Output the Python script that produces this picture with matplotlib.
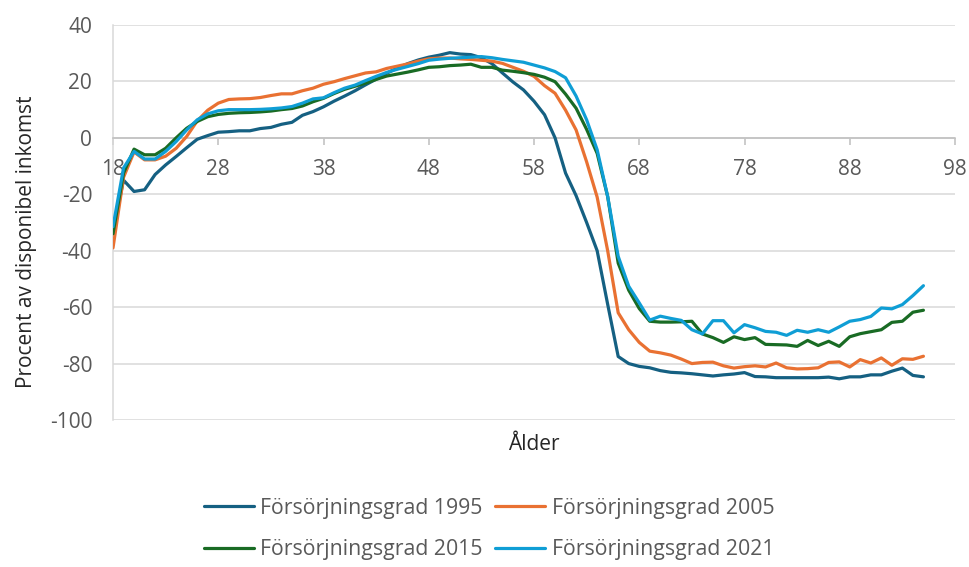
import matplotlib
matplotlib.use("Agg")
import matplotlib.pyplot as plt
import numpy as np

# Ålder 18-95
ages = list(range(18, 96))

grad_1995 = [-33, -15, -19, -18.4, -13, -9.6, -6.6, -3.5, -0.5, 0.8,
             2.0, 2.2, 2.5, 2.5, 3.3, 3.7, 4.8, 5.5, 8, 9.3,
             11, 13, 14.8, 16.7, 18.8, 20.8, 22.9, 24.7, 26.3, 27.6,
             28.6, 29.3, 30.2, 29.7, 29.5, 28.4, 26.3, 23, 19.8, 17,
             13, 8.2, 0, -12.5, -20.5, -30, -40, -59, -77.5, -80,
             -81, -81.5, -82.5, -83.1, -83.3, -83.6, -84, -84.4, -84, -83.7,
             -83.2, -84.6, -84.7, -85, -85, -85, -85, -85, -84.8, -85.4,
             -84.7, -84.7, -84, -84, -82.7, -81.6, -84.2, -84.7]

grad_2005 = [-39, -14, -5, -7.8, -7.8, -6.5, -3.7, 0.5, 6, 9.8,
             12.3, 13.6, 13.8, 13.9, 14.3, 15, 15.6, 15.6, 16.7, 17.6,
             19, 19.9, 21, 22, 23, 23.4, 24.6, 25.4, 26.2, 27.2,
             28, 28.3, 28.3, 28, 27.8, 27.5, 27.2, 26.4, 25, 23.6,
             21.8, 18.5, 15.8, 9.8, 2.8, -8.5, -21, -40, -62, -68,
             -72.5, -75.6, -76.2, -77, -78.4, -80, -79.6, -79.5, -80.8, -81.6,
             -81.1, -80.8, -81.2, -79.8, -81.5, -81.9, -81.8, -81.5, -79.6, -79.4,
             -81.2, -78.6, -79.8, -78, -80.6, -78.3, -78.5, -77.4]

grad_2015 = [-34, -12.5, -4, -6, -6, -3.7, 0, 3.4, 5.8, 7.5,
             8.3, 8.7, 8.9, 9, 9.2, 9.5, 10, 10.4, 11.3, 12.8,
             14, 15.7, 17.2, 18.3, 19.4, 20.7, 21.9, 22.6, 23.3, 24.1,
             25, 25.2, 25.6, 25.8, 26.1, 25, 25, 24, 23.6, 23.1,
             22.5, 21.5, 19.9, 15.5, 10.5, 3, -5.5, -20.8, -44.4, -54,
             -60.5, -65, -65.3, -65.3, -65.2, -65, -69.5, -70.8, -72.5, -70.5,
             -71.5, -70.8, -73.2, -73.3, -73.4, -73.9, -71.8, -73.6, -72.1, -73.9,
             -70.5, -69.4, -68.7, -68, -65.4, -65, -61.8, -61.1]

grad_2021 = [-31.5, -10.7, -4.8, -7.5, -7.5, -4.8, -1.3, 2.8, 6.4, 8.5,
             9.6, 10, 10, 10, 10.1, 10.3, 10.6, 11.1, 12.3, 13.8,
             14.2, 16, 17.6, 18.7, 20.3, 21.8, 23.2, 24.3, 25.3, 26.3,
             27.5, 27.9, 28.2, 28.4, 28.6, 28.8, 28.4, 27.8, 27.3, 26.8,
             25.8, 24.8, 23.5, 21.3, 14.8, 6.4, -4.2, -20.8, -42, -52.6,
             -58.5, -64.6, -63.2, -64, -64.7, -68, -69.5, -64.8, -64.8, -69.1,
             -66.2, -67.3, -68.6, -68.9, -70, -68.2, -68.9, -68, -68.9, -67,
             -65, -64.4, -63.3, -60.3, -60.6, -59.1, -55.9, -52.4]

labels = ["Försörjningsgrad 1995", "Försörjningsgrad 2005",
          "Försörjningsgrad 2015", "Försörjningsgrad 2021"]
colors = ["#156082", "#E97132", "#196B24", "#0F9ED5"]

plt.rcParams['font.family'] = ['Open Sans', 'DejaVu Sans']
plt.rcParams['axes.unicode_minus'] = False

fig = plt.figure(figsize=(9.69, 5.67), dpi=100)
ax = fig.add_axes([113/969, 1 - 420/567, (955 - 113)/969, (420 - 25)/567])

lines = []
for vals, lab, col in zip([grad_1995, grad_2005, grad_2015, grad_2021], labels, colors):
    ln, = ax.plot(ages, vals, color=col, lw=2.3, label=lab, solid_capstyle='round', zorder=3)
    lines.append(ln)

ax.set_xlim(18, 98)
ax.set_ylim(-100, 40)
ax.set_xticks(range(18, 99, 10))
ax.set_yticks(range(-100, 41, 20))

# grid och axlar
ax.grid(axis='y', color='#D9D9D9', lw=1.1, zorder=0)
ax.grid(axis='x', visible=False)
for s in ['top', 'right']:
    ax.spines[s].set_visible(False)
ax.spines['bottom'].set_position(('data', 0))
ax.spines['bottom'].set_color('#BFBFBF')
ax.spines['bottom'].set_linewidth(1.1)
ax.spines['left'].set_color('#D9D9D9')
ax.spines['left'].set_linewidth(1.1)

ax.tick_params(axis='x', colors='#BFBFBF', labelcolor='#595959', labelsize=15,
               length=5, width=1.1, pad=10, direction='out')
ax.tick_params(axis='y', length=0, labelcolor='#595959', labelsize=15, pad=15)

ax.set_ylabel("Procent av disponibel inkomst", fontsize=15, color='#262626')
ax.yaxis.set_label_coords(-0.09, 0.45)
ax.set_xlabel("Ålder", fontsize=15, color='#262626')
ax.xaxis.set_label_coords(0.5, -0.035)

# legend: rad 1 = 1995, 2005; rad 2 = 2015, 2021
order = [0, 2, 1, 3]
fig.legend([lines[i] for i in order], [labels[i] for i in order],
           loc='center', bbox_to_anchor=(489/969, 1 - 529/567), ncol=2,
           frameon=False, fontsize=15.3, labelcolor='#595959',
           handlelength=2.35, handletextpad=0.3, columnspacing=0.6, labelspacing=0.95)

fig.savefig("out.png", dpi=100)
